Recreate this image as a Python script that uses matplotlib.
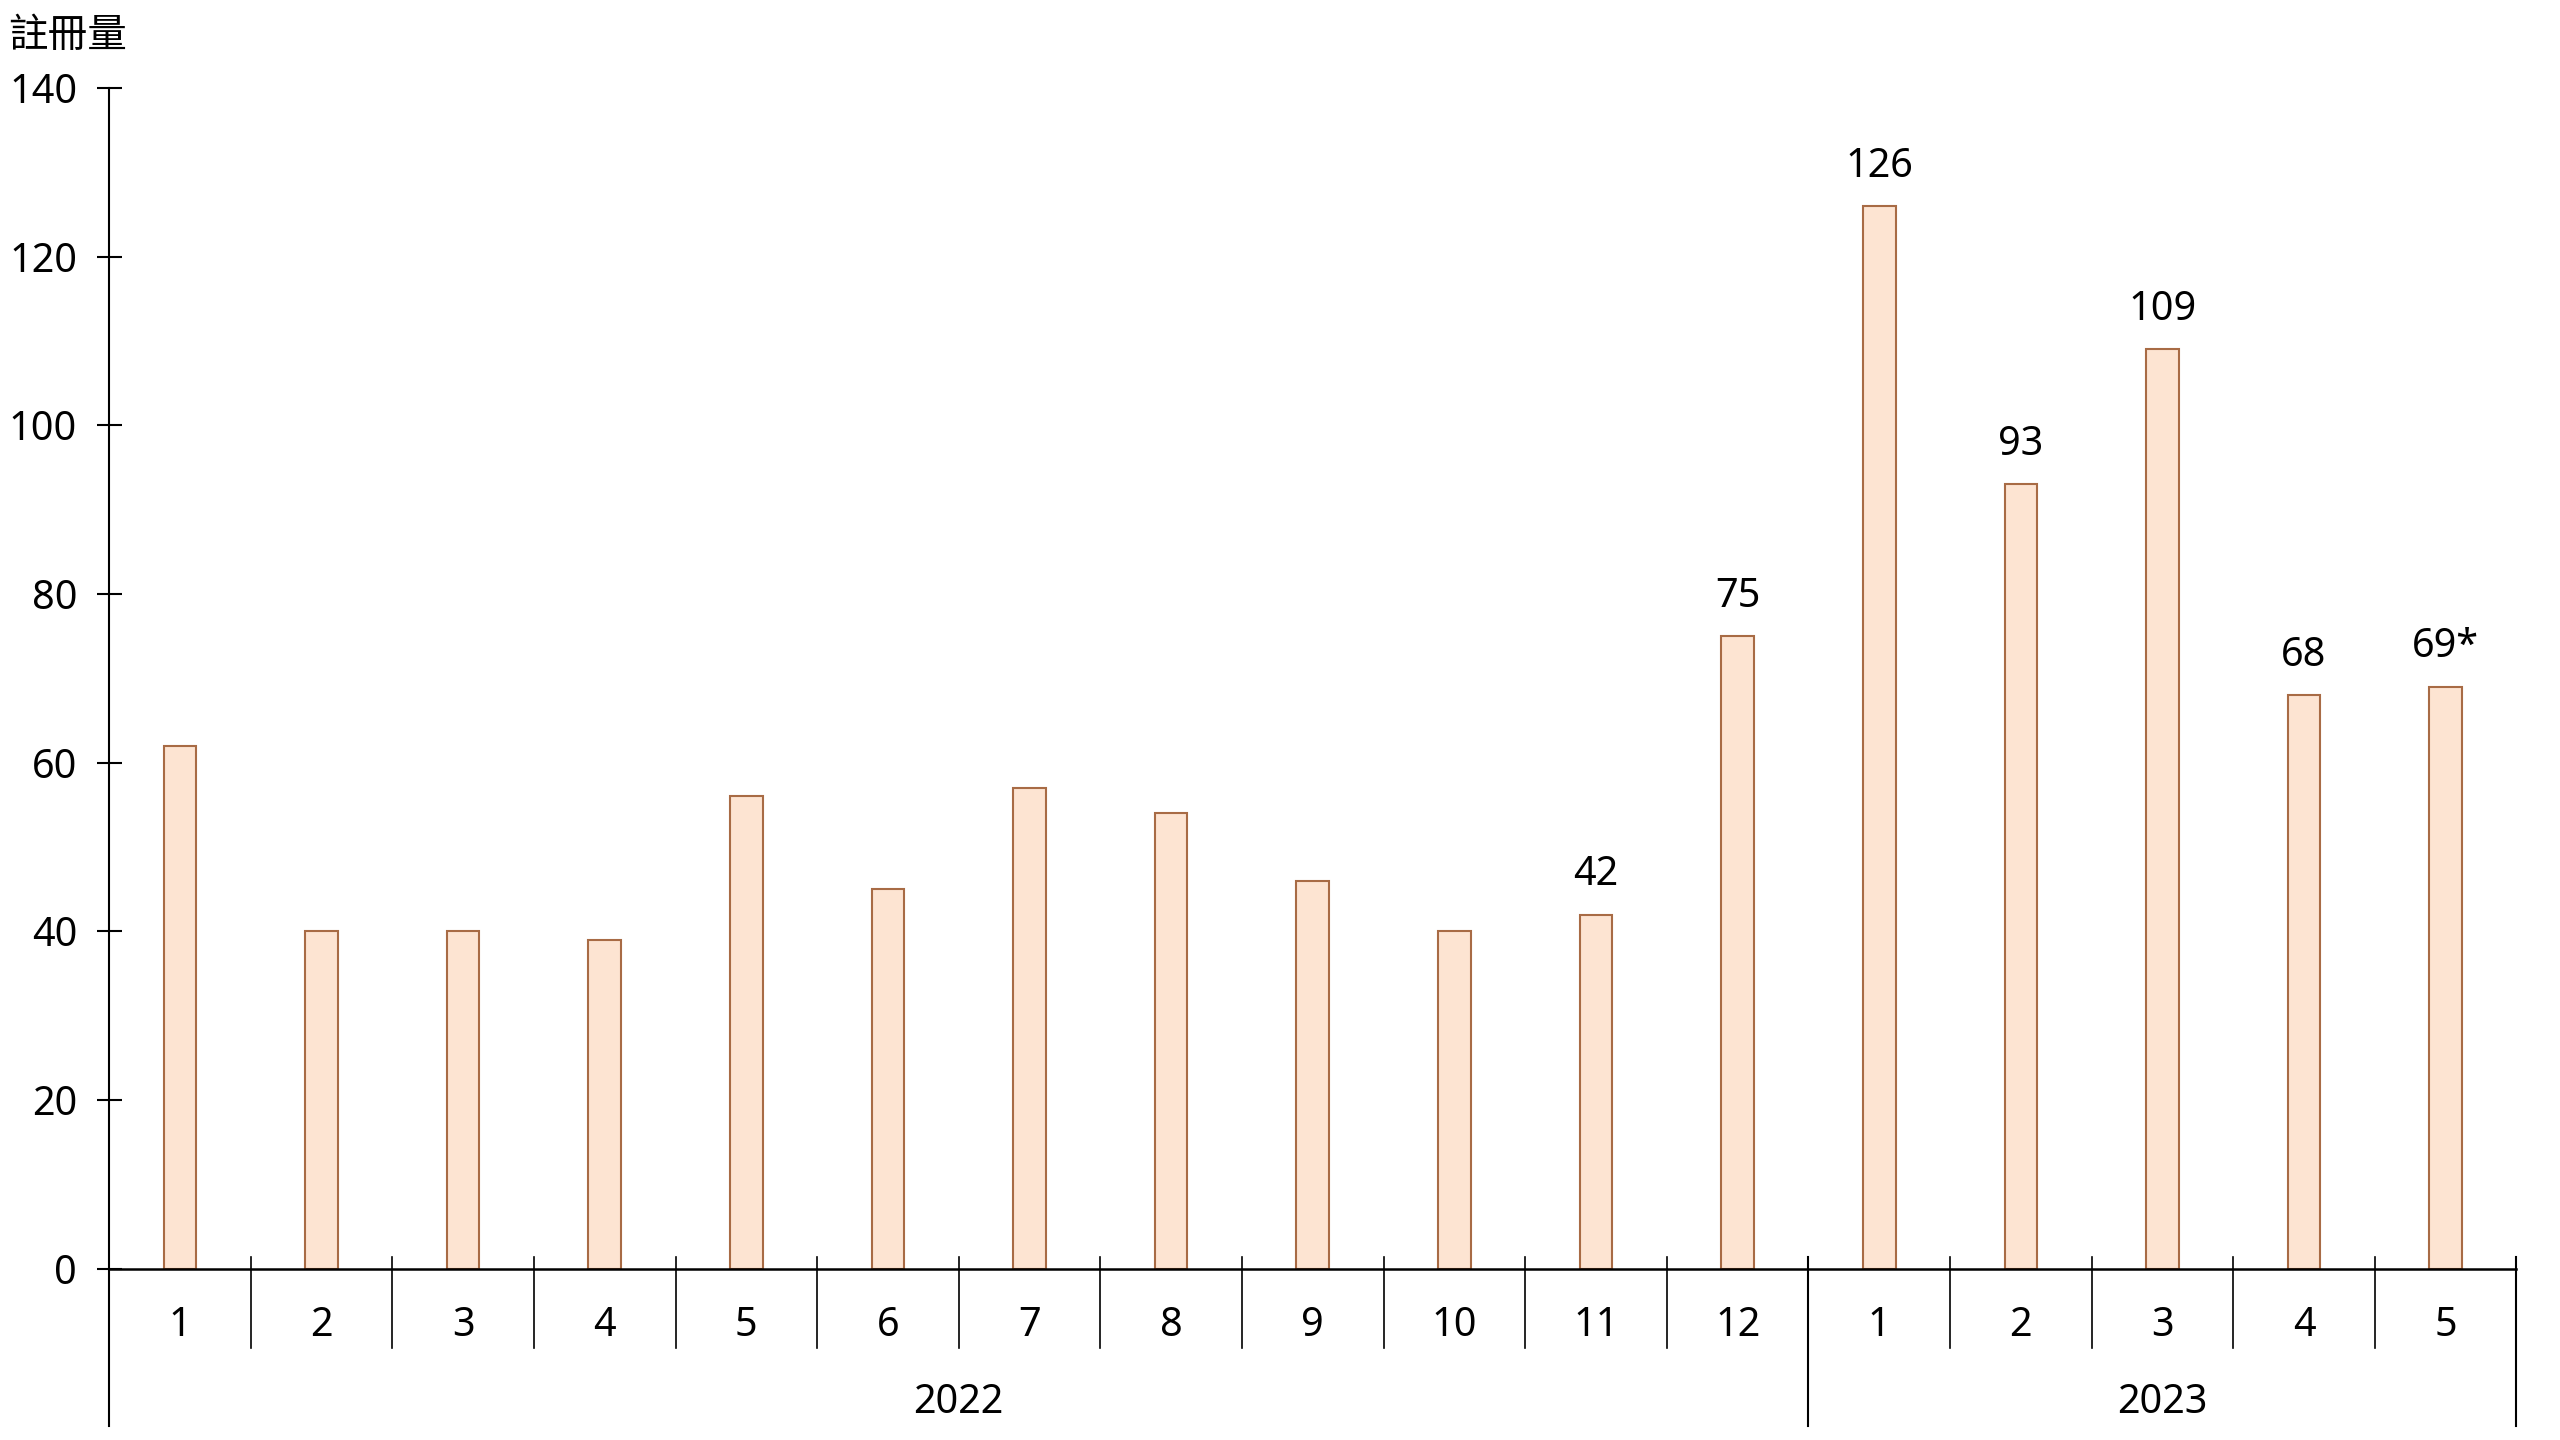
import numpy as np
import matplotlib
matplotlib.use("Agg")
import matplotlib.pyplot as plt

plt.rcParams['font.family'] = ['Noto Sans', 'Noto Sans CJK TC', 'DejaVu Sans']

# data
years = ["2022", "2023"]
months_2022 = ["1", "2", "3", "4", "5", "6", "7", "8", "9", "10", "11", "12"]
months_2023 = ["1", "2", "3", "4", "5"]
values_2022 = [62, 40, 40, 39, 56, 45, 57, 54, 46, 40, 42, 75]
values_2023 = [126, 93, 109, 68, 69]
value_labels = ["", "", "", "", "", "", "", "", "", "", "42", "75",
                "126", "93", "109", "68", "69*"]
ylabel = "註冊量"

months = months_2022 + months_2023
values = values_2022 + values_2023
x = np.arange(len(values))

fill_col = "#FDE4D2"
edge_col = "#A86B45"
fs = 28.5

fig = plt.figure(figsize=(25.6, 14.4), dpi=100)
ax = fig.add_axes([0.0426, 0.1188, 0.983 - 0.0426, 0.939 - 0.1188])

ax.bar(x, values, width=0.23, color=fill_col, edgecolor=edge_col, linewidth=1.5)

for xi, v, lab in zip(x, values, value_labels):
    if lab:
        ax.annotate(lab, (xi, v), xytext=(0, 14), textcoords="offset points",
                    ha="center", va="bottom", fontsize=fs)

ax.set_xlim(-0.5, len(values) - 0.5)
ax.set_ylim(0, 140)
ax.set_yticks(np.arange(0, 141, 20))
ax.tick_params(axis="y", direction="inout", length=18, width=1.5, labelsize=fs, pad=14)
ax.set_xticks([])
for s in ["top", "right"]:
    ax.spines[s].set_visible(False)
ax.spines["left"].set_linewidth(1.5)
ax.spines["bottom"].set_linewidth(1.8)

# category axis: month separators and year separators
tr = ax.get_xaxis_transform()
n22 = len(months_2022)
bounds = np.arange(len(values) + 1) - 0.5
for i, b in enumerate(bounds):
    if i == 0:
        ax.plot([b, b], [0, -0.133], color="black", lw=1.5, transform=tr, clip_on=False)
    elif i == n22 or i == len(values):
        ax.plot([b, b], [0.0102, -0.133], color="black", lw=1.5, transform=tr, clip_on=False)
    else:
        ax.plot([b, b], [0.0102, -0.0669], color="black", lw=1.2, transform=tr, clip_on=False)

for xi, m in zip(x, months):
    ax.text(xi, -0.048, m, transform=tr, ha="center", va="center", fontsize=fs)

ax.text((n22 - 1) / 2, -0.1135, years[0], transform=tr, ha="center", va="center", fontsize=fs)
ax.text(n22 + (len(months_2023) - 1) / 2, -0.1135, years[1], transform=tr,
        ha="center", va="center", fontsize=fs)

fig.text(8 / 2560, 1 - 37 / 1440, ylabel, ha="left", va="center", fontsize=fs)

fig.savefig("out.png", dpi=100)
